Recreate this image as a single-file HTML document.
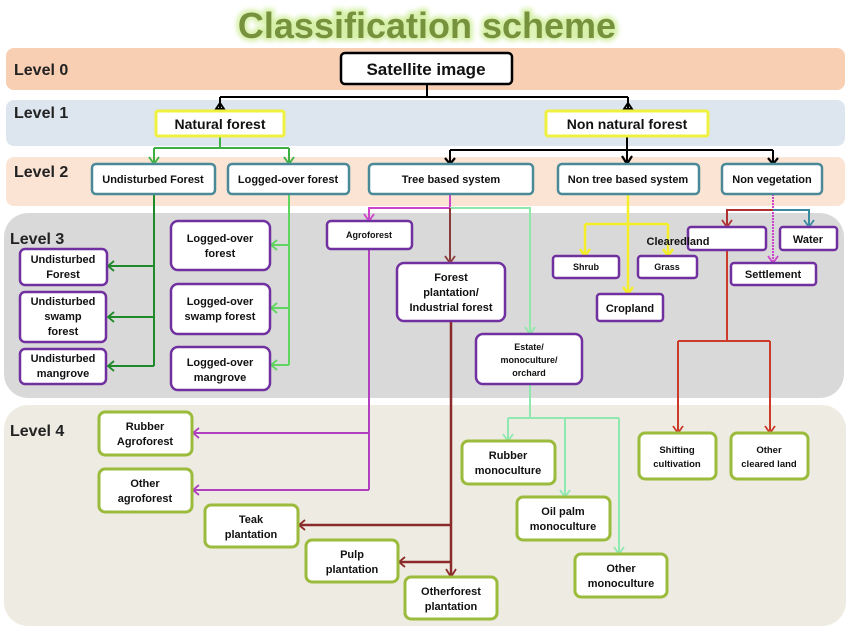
<!DOCTYPE html>
<html><head><meta charset="utf-8"><style>
html,body{margin:0;padding:0;background:#fff;width:850px;height:638px;overflow:hidden}
svg text{font-family:"Liberation Sans",sans-serif;font-weight:bold}
</style></head><body>
<svg width="850" height="638" viewBox="0 0 850 638" xmlns="http://www.w3.org/2000/svg">
<defs>
<filter id="glow"><feGaussianBlur stdDeviation="2.5"/></filter>
</defs>
<!-- bands -->
<rect x="6" y="48" width="839" height="42" rx="8" fill="#f8cfb3"/>
<rect x="6" y="100" width="839" height="46" rx="8" fill="#dde6ee"/>
<rect x="6" y="157" width="839" height="49" rx="8" fill="#fbe4d4"/>
<rect x="4" y="213" width="840" height="185" rx="24" fill="#d9d9d9"/>
<rect x="4" y="405" width="842" height="221" rx="24" fill="#eeece2"/>
<!-- title -->
<text x="427" y="38" font-size="36" text-anchor="middle" fill="#d6f0a8" stroke="#d6f0a8" stroke-width="6" filter="url(#glow)">Classification scheme</text>
<text x="427" y="38" font-size="36" text-anchor="middle" fill="#76923c">Classification scheme</text>
<!-- level labels -->
<g font-size="16" fill="#222">
<text x="14" y="75">Level 0</text>
<text x="14" y="118">Level 1</text>
<text x="14" y="177">Level 2</text>
<text x="10" y="244">Level 3</text>
<text x="10" y="436">Level 4</text>
</g>
<!-- connectors -->
<g fill="none" stroke-width="2">
<path d="M427 84V97M220 97H628M220 97V109M628 97V109" stroke="#000"/>
<path d="M220 103l-4 6h8z M628 103l-4 6h8z" stroke="#000"/>
<path d="M627 136V150M450 150H773M450 150V162M627 150V162M773 150V162" stroke="#000"/>
<path d="M220 136V148M154 148H289M154 148V162M289 148V162" stroke="#3cb043"/>
<path d="M154 194V366M154 266H109M154 317H109M154 366H109" stroke="#1f8a2a"/>
<path d="M289 194V365M289 245H272M289 308H272M289 365H272" stroke="#5fd65f"/>
<path d="M450 194V208M450 208H369V219" stroke="#cc44cc"/>
<path d="M450 208H530V332" stroke="#8ee8a8"/>
<path d="M450 208V261" stroke="#8b3a3a"/>
<path d="M369 249V490M369 433H194M369 490H194" stroke="#b040c0"/>
<path d="M451 321V575M451 525H300M451 562H400" stroke="#8b2a2a" stroke-width="2.5"/>
<path d="M530 384V418M508 418H619M508 418V439M565 418V495M619 418V552" stroke="#8ee8b0"/>
<path d="M628 194V292M585 224H668M585 224V254M668 224V254" stroke="#f5ef2a" stroke-width="2.5"/>
<path d="M773 194V261" stroke="#cc44cc" stroke-dasharray="2 1"/>
<path d="M773 210H727V225" stroke="#b03030"/>
<path d="M773 210H809V225" stroke="#3a8aa0"/>
<path d="M727 250V341M678 341H770M678 341V431M770 341V431" stroke="#cc3a2a"/>
</g>
<!-- arrowheads -->
<g fill="none" stroke-width="1.8">
<path d="M445 158l5 6 5-6M622 156l5 8 5-8M768 158l5 6 5-6" stroke="#000" stroke-width="2.2"/>
<path d="M149 157l5 7 5-7M284 157l5 7 5-7" stroke="#3cb043"/>
<path d="M114 261l-6 5 6 5M114 312l-6 5 6 5M114 361l-6 5 6 5" stroke="#1f8a2a"/>
<path d="M277 240l-6 5 6 5M277 303l-6 5 6 5M277 360l-6 5 6 5" stroke="#5fd65f"/>
<path d="M364 214l5 7 5-7" stroke="#cc44cc"/>
<path d="M525 327l5 7 5-7" stroke="#8ee8a8"/>
<path d="M445 256l5 7 5-7" stroke="#8b3a3a"/>
<path d="M199 428l-6 5 6 5M199 485l-6 5 6 5" stroke="#b040c0"/>
<path d="M305 520l-6 5 6 5M405 557l-6 5 6 5M446 569l5 8 5-8" stroke="#8b2a2a"/>
<path d="M503 434l5 7 5-7M560 490l5 7 5-7M614 547l5 7 5-7" stroke="#8ee8b0"/>
<path d="M623 287l5 7 5-7M580 249l5 7 5-7M663 249l5 7 5-7" stroke="#f5ef2a" stroke-width="2.5"/>
<path d="M768 256l5 7 5-7" stroke="#cc44cc"/>
<path d="M722 220l5 7 5-7" stroke="#b03030"/>
<path d="M804 220l5 7 5-7" stroke="#3a8aa0"/>
<path d="M673 426l5 7 5-7M765 426l5 7 5-7" stroke="#cc3a2a"/>
</g>
<!-- nodes -->
<g fill="#fff">
<rect x="341" y="53" width="171" height="31" rx="4" stroke="#000" stroke-width="2.5"/>
<rect x="156" y="111" width="128" height="25" rx="2" stroke="#f0f040" stroke-width="3"/>
<rect x="546" y="111" width="162" height="25" rx="2" stroke="#f0f040" stroke-width="3"/>
<g stroke="#4a8a98" stroke-width="2.5">
<rect x="92" y="164" width="123" height="30" rx="4"/>
<rect x="228" y="164" width="121" height="30" rx="4"/>
<rect x="369" y="164" width="164" height="30" rx="4"/>
<rect x="558" y="164" width="141" height="30" rx="4"/>
<rect x="722" y="164" width="100" height="30" rx="4"/>
</g>
<g stroke="#7030a0" stroke-width="2.5">
<rect x="20" y="249" width="87" height="36" rx="5"/>
<rect x="20" y="292" width="86" height="50" rx="5"/>
<rect x="20" y="349" width="86" height="35" rx="5"/>
<rect x="171" y="221" width="99" height="49" rx="7"/>
<rect x="171" y="284" width="99" height="50" rx="7"/>
<rect x="171" y="347" width="99" height="43" rx="7"/>
<rect x="327" y="221" width="85" height="28" rx="4"/>
<rect x="397" y="263" width="108" height="58" rx="7"/>
<rect x="476" y="334" width="106" height="50" rx="7"/>
<rect x="553" y="256" width="66" height="22" rx="3"/>
<rect x="638" y="256" width="59" height="22" rx="3"/>
<rect x="597" y="294" width="66" height="27" rx="3"/>
<rect x="688" y="227" width="78" height="23" rx="3"/>
<rect x="780" y="227" width="57" height="23" rx="3"/>
<rect x="731" y="263" width="85" height="22" rx="3"/>
</g>
<g stroke="#9bbb3c" stroke-width="3">
<rect x="99" y="412" width="93" height="43" rx="6"/>
<rect x="99" y="469" width="93" height="43" rx="6"/>
<rect x="205" y="505" width="93" height="42" rx="6"/>
<rect x="306" y="540" width="92" height="42" rx="6"/>
<rect x="405" y="577" width="92" height="42" rx="6"/>
<rect x="462" y="441" width="93" height="43" rx="6"/>
<rect x="517" y="497" width="93" height="43" rx="6"/>
<rect x="575" y="554" width="92" height="43" rx="6"/>
<rect x="639" y="433" width="77" height="46" rx="6"/>
<rect x="731" y="433" width="77" height="46" rx="6"/>
</g>
</g>
<!-- labels -->
<g fill="#111" text-anchor="middle">
<text x="426" y="75" font-size="17" font-weight="normal">Satellite image</text>
<text x="220" y="129" font-size="14" font-weight="normal">Natural forest</text>
<text x="627" y="129" font-size="14" font-weight="normal">Non natural forest</text>
<g font-size="11" font-weight="normal">
<text x="153" y="183">Undisturbed Forest</text>
<text x="288" y="183">Logged-over forest</text>
<text x="451" y="183">Tree based system</text>
<text x="628" y="183">Non tree based system</text>
<text x="772" y="183">Non vegetation</text>
</g>
<g font-size="11">
<text x="63" y="263">Undisturbed</text><text x="63" y="278">Forest</text>
<text x="63" y="305">Undisturbed</text><text x="63" y="320">swamp</text><text x="63" y="335">forest</text>
<text x="63" y="362">Undisturbed</text><text x="63" y="377">mangrove</text>
<text x="220" y="242">Logged-over</text><text x="220" y="257">forest</text>
<text x="220" y="305">Logged-over</text><text x="220" y="320">swamp forest</text>
<text x="220" y="366">Logged-over</text><text x="220" y="381">mangrove</text>
<text x="451" y="281">Forest</text><text x="451" y="296">plantation/</text><text x="451" y="311">Industrial forest</text>
<text x="678" y="245">Clearedland</text>
<text x="808" y="243">Water</text>
<text x="773" y="278">Settlement</text>
<text x="630" y="312">Cropland</text>
</g>
<g font-size="9">
<text x="369" y="238">Agroforest</text>
<text x="529" y="350">Estate/</text><text x="529" y="363">monoculture/</text><text x="529" y="376">orchard</text>
<text x="586" y="270">Shrub</text>
<text x="667" y="270">Grass</text>
</g>
<g font-size="11" font-weight="normal">
<text x="145" y="430">Rubber</text><text x="145" y="445">Agroforest</text>
<text x="145" y="487">Other</text><text x="145" y="502">agroforest</text>
<text x="251" y="523">Teak</text><text x="251" y="538">plantation</text>
<text x="352" y="558">Pulp</text><text x="352" y="573">plantation</text>
<text x="451" y="595">Otherforest</text><text x="451" y="610">plantation</text>
<text x="508" y="459">Rubber</text><text x="508" y="474">monoculture</text>
<text x="563" y="515">Oil palm</text><text x="563" y="530">monoculture</text>
<text x="621" y="572">Other</text><text x="621" y="587">monoculture</text>
</g>
<g font-size="9.5" font-weight="normal">
<text x="677" y="453">Shifting</text><text x="677" y="467">cultivation</text>
<text x="769" y="453">Other</text><text x="769" y="467">cleared land</text>
</g>
</g>
</svg>
</body></html>
